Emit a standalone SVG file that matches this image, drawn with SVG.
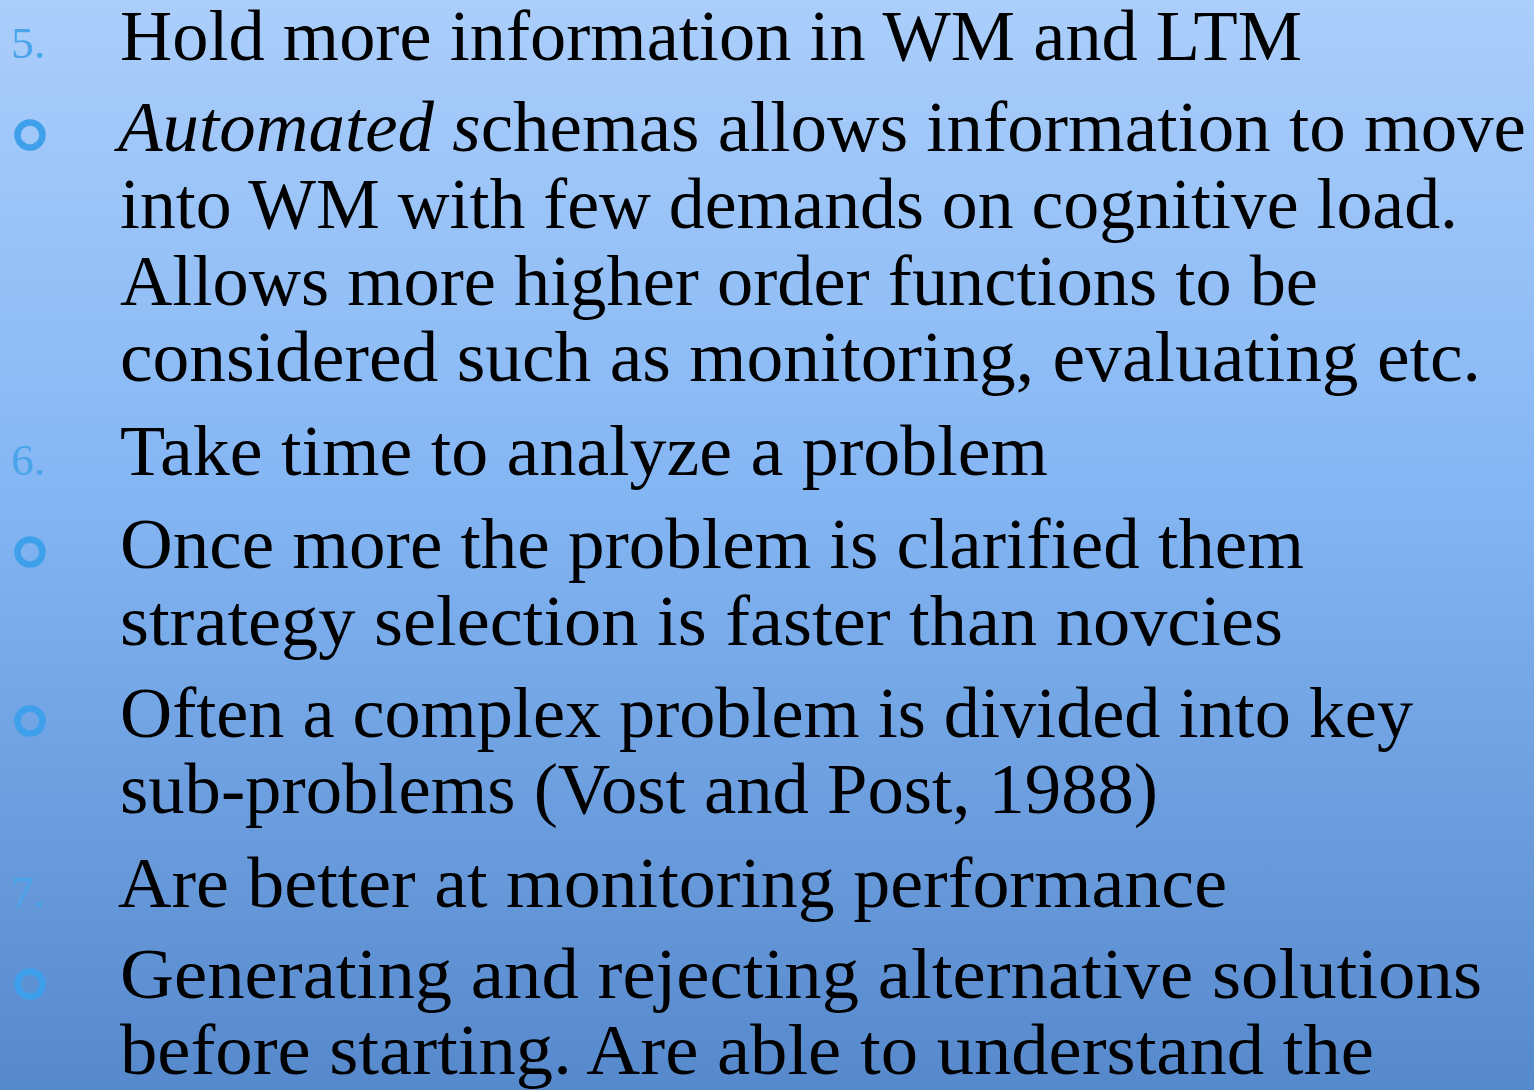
<svg xmlns="http://www.w3.org/2000/svg" width="1534" height="1090" viewBox="0 0 1534 1090">
<defs>
<linearGradient id="bg" x1="0" y1="0" x2="0" y2="1">
<stop offset="0" stop-color="#abcefb"/>
<stop offset="0.45" stop-color="#84b6f4"/>
<stop offset="1" stop-color="#5689cc"/>
</linearGradient>
</defs>
<style>
.t{font-family:"Liberation Serif","DejaVu Serif",serif;font-size:72px;fill:#000}
.n{font-family:"Liberation Serif","DejaVu Serif",serif;font-size:44px;fill:#4aa4ea}
.b{fill:none;stroke:#3ea0ea;stroke-width:6.5}
</style>
<rect width="1534" height="1090" fill="url(#bg)"/>
<g id="bullets">
<text class="n" x="11" y="58" textLength="34" lengthAdjust="spacingAndGlyphs">5.</text>
<circle class="b" cx="30" cy="135" r="12.5"/>
<text class="n" x="11" y="475" textLength="34" lengthAdjust="spacingAndGlyphs">6.</text>
<circle class="b" cx="30" cy="552" r="12.5"/>
<circle class="b" cx="30" cy="721" r="12.5"/>
<text class="n" x="11" y="907" textLength="34" lengthAdjust="spacingAndGlyphs">7.</text>
<circle class="b" cx="30" cy="984" r="12.5"/>
</g>
<g id="text">
<text class="t" x="120" y="60" textLength="1182" lengthAdjust="spacingAndGlyphs">Hold more information in WM and LTM</text>
<text class="t" x="118" y="151" textLength="1408" lengthAdjust="spacingAndGlyphs"><tspan font-style="italic">Automated s</tspan>chemas allows information to move</text>
<text class="t" x="120" y="228" textLength="1338" lengthAdjust="spacingAndGlyphs">into WM with few demands on cognitive load.</text>
<text class="t" x="120" y="305" textLength="1198" lengthAdjust="spacingAndGlyphs">Allows more higher order functions to be</text>
<text class="t" x="120" y="381" textLength="1361" lengthAdjust="spacingAndGlyphs">considered such as monitoring, evaluating etc.</text>
<text class="t" x="120" y="475" textLength="928" lengthAdjust="spacingAndGlyphs">Take time to analyze a problem</text>
<text class="t" x="120" y="568" textLength="1184" lengthAdjust="spacingAndGlyphs">Once more the problem is clarified them</text>
<text class="t" x="120" y="645" textLength="1163" lengthAdjust="spacingAndGlyphs">strategy selection is faster than novcies</text>
<text class="t" x="120" y="737" textLength="1293" lengthAdjust="spacingAndGlyphs">Often a complex problem is divided into key</text>
<text class="t" x="120" y="813" textLength="1038" lengthAdjust="spacingAndGlyphs">sub-problems (Vost and Post, 1988)</text>
<text class="t" x="118" y="907" textLength="1109" lengthAdjust="spacingAndGlyphs">Are better at monitoring performance</text>
<text class="t" x="120" y="998" textLength="1362" lengthAdjust="spacingAndGlyphs">Generating and rejecting alternative solutions</text>
<text class="t" x="120" y="1074" textLength="1254" lengthAdjust="spacingAndGlyphs">before starting. Are able to understand the</text>
</g>
</svg>
